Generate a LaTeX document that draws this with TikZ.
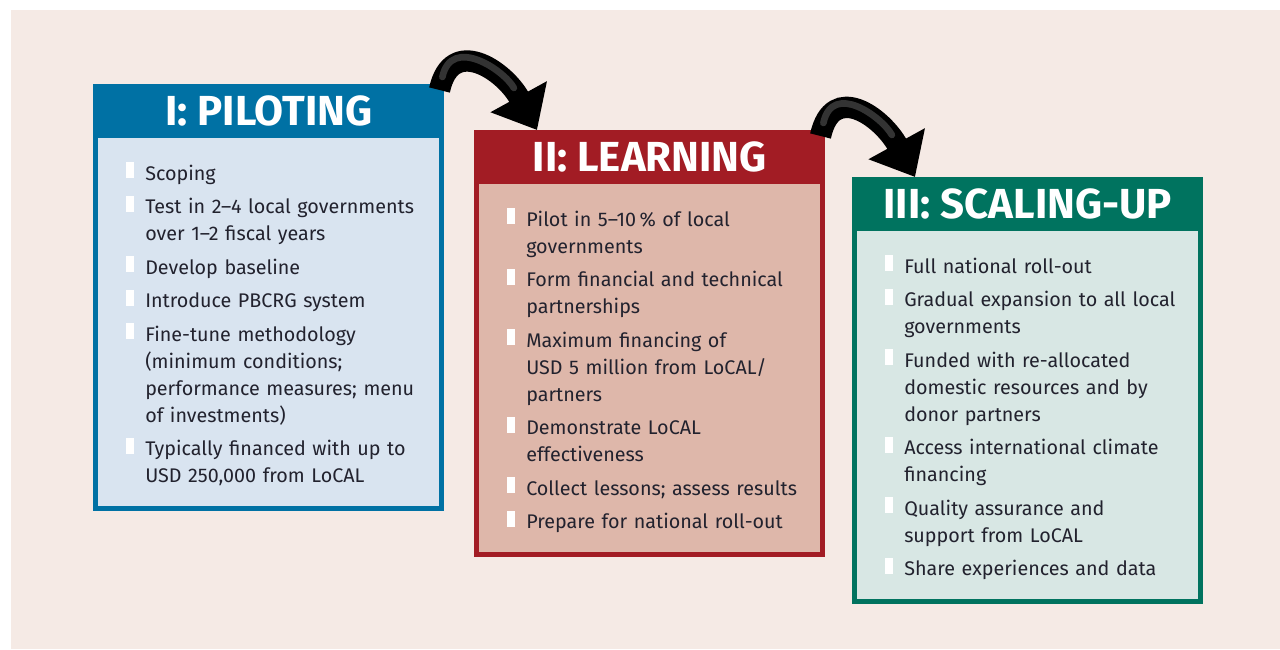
\documentclass[tikz,border=0pt]{standalone}
\usepackage{fontspec}
\setmainfont{Fira Sans}
\usepackage{tikz}
\usetikzlibrary{arrows.meta, positioning, calc}

\definecolor{backdrop}{HTML}{F5EAE5}
\definecolor{inktext}{HTML}{22222E}
\definecolor{pilotblue}{HTML}{0071A4}
\definecolor{pilotpanel}{HTML}{D9E4F0}
\definecolor{learnred}{HTML}{A21C24}
\definecolor{learnpanel}{HTML}{DEB7AA}
\definecolor{scalegreen}{HTML}{00735F}
\definecolor{scalepanel}{HTML}{D8E7E4}

% white bar in front of every step
\newcommand{\stepbar}{\textcolor{white}{\rule[1.5pt]{6pt}{12pt}}}
\newenvironment{steplist}{%
  \begin{list}{\stepbar}{%
    \setlength{\leftmargin}{14.25pt}\setlength{\labelwidth}{6pt}%
    \setlength{\labelsep}{8.25pt}\setlength{\itemsep}{4.9pt}%
    \setlength{\parsep}{0pt}\setlength{\topsep}{0pt}\setlength{\partopsep}{0pt}}}%
  {\end{list}}

\tikzset{
  frame/.style={rectangle, anchor=north west, inner sep=0pt, minimum width=263.25pt, minimum height=320.25pt},
  panel/.style={rectangle, inner sep=0pt, minimum width=255.75pt, minimum height=276pt},
  title/.style={inner sep=0pt, minimum height=40.5pt, text=white, font=\fontsize{31.5}{36}\selectfont\bfseries},
  steps/.style={inner sep=0pt, text width=234pt, align=left, text=inktext, font=\fontsize{14.8}{20.25}\selectfont},
  flow/.style={line width=16pt, black, -{Triangle[width=46.5pt, length=28.5pt]}},
  flowshine/.style={line width=5pt, white, opacity=0.2, line cap=round, shorten <=10pt, shorten >=36pt}
}

\begin{document}
\begin{tikzpicture}[x=0.75pt, y=-0.75pt]
  \useasboundingbox (0,0) rectangle (1280,649);
  \fill[white] (0,0) rectangle (1280,649);
  \fill[backdrop] (11,10) rectangle (1280,649);

  % stage I
  \node[frame, fill=pilotblue] (pilot) at (93,84) {};
  \node[panel, fill=pilotpanel, below=40.5pt of pilot.north] (pilot-panel) {};
  \node[title, below=0pt of pilot.north] (pilot-title) {I: PILOTING};
  \node[steps, below right=11.25pt and 21pt of pilot-panel.north west] (pilot-steps) {%
    \begin{steplist}
      \item Scoping
      \item Test in 2--4 local governments\newline over 1--2 fiscal years
      \item Develop baseline
      \item Introduce PBCRG system
      \item Fine-tune methodology\newline (minimum conditions;\newline performance measures; menu\newline of investments)
      \item Typically financed with up to\newline USD 250,000 from LoCAL
    \end{steplist}};

  % stage II
  \node[frame, fill=learnred] (learn) at (474,130) {};
  \node[panel, fill=learnpanel, below=40.5pt of learn.north] (learn-panel) {};
  \node[title, below=0pt of learn.north] (learn-title) {II: LEARNING};
  \node[steps, below right=11.25pt and 21pt of learn-panel.north west] (learn-steps) {%
    \begin{steplist}
      \item Pilot in 5--10\,\% of local\newline governments
      \item Form financial and technical\newline partnerships
      \item Maximum financing of\newline USD 5 million from LoCAL/\newline partners
      \item Demonstrate LoCAL\newline effectiveness
      \item Collect lessons; assess results
      \item Prepare for national roll-out
    \end{steplist}};

  % stage III
  \node[frame, fill=scalegreen] (scale) at (852,177) {};
  \node[panel, fill=scalepanel, below=40.5pt of scale.north] (scale-panel) {};
  \node[title, below=0pt of scale.north] (scale-title) {III: SCALING-UP};
  \node[steps, below right=11.25pt and 21pt of scale-panel.north west] (scale-steps) {%
    \begin{steplist}
      \item Full national roll-out
      \item Gradual expansion to all local\newline governments
      \item Funded with re-allocated\newline domestic resources and by\newline donor partners
      \item Access international climate\newline financing
      \item Quality assurance and\newline support from LoCAL
      \item Share experiences and data
    \end{steplist}};

  % curved arrows between the stages
  \coordinate (pilot-out) at ($(pilot.north east)+(-5,6)$);
  \coordinate (learn-in) at ($(learn.north west)+(63,0)$);
  \coordinate (learn-out) at ($(learn.north east)+(-5,6)$);
  \coordinate (scale-in) at ($(scale.north west)+(63,0)$);
  \draw[flow] (pilot-out) .. controls ($(pilot-out)+(12,-55)$) and ($(learn-in)+(-33,-60)$) .. (learn-in);
  \draw[flowshine] (pilot-out) .. controls ($(pilot-out)+(12,-55)$) and ($(learn-in)+(-33,-60)$) .. (learn-in);
  \draw[flow] (learn-out) .. controls ($(learn-out)+(12,-55)$) and ($(scale-in)+(-33,-60)$) .. (scale-in);
  \draw[flowshine] (learn-out) .. controls ($(learn-out)+(12,-55)$) and ($(scale-in)+(-33,-60)$) .. (scale-in);
\end{tikzpicture}
\end{document}
